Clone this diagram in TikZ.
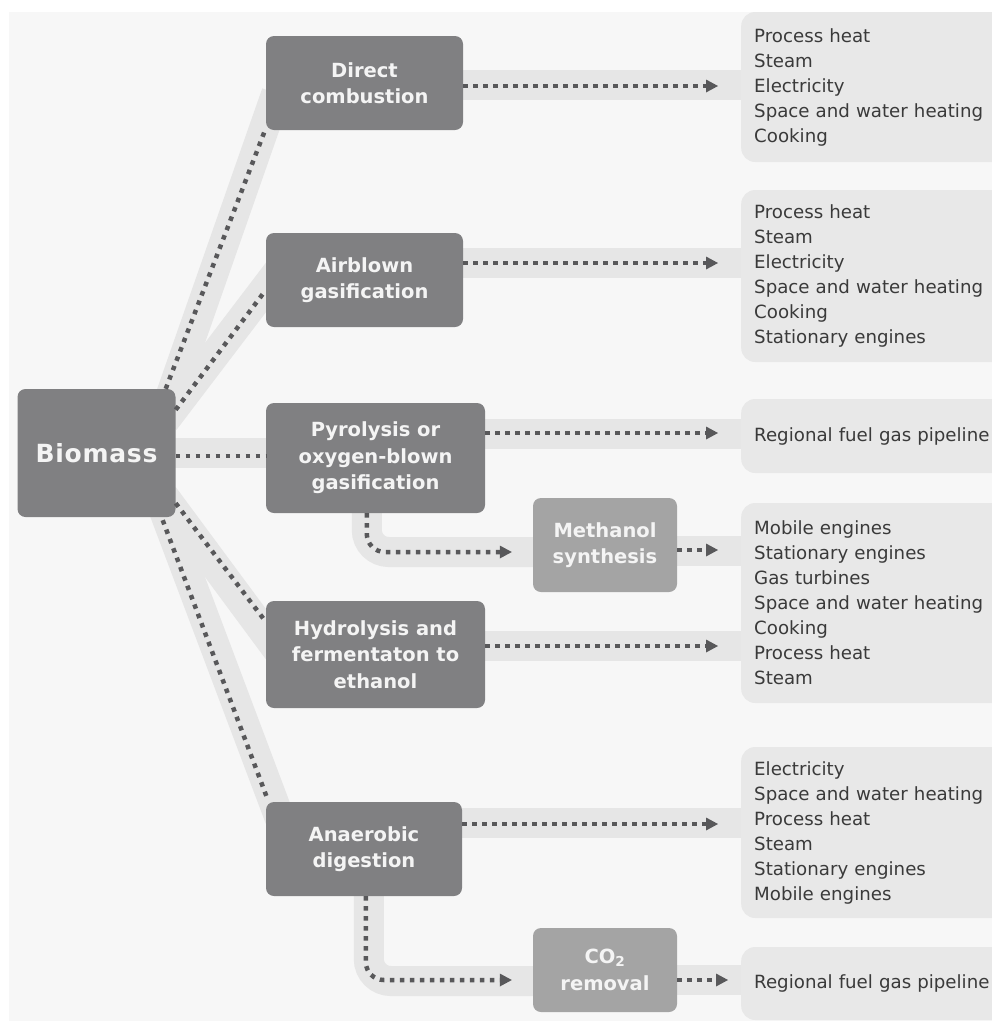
\documentclass[tikz,border=0pt]{standalone}
\usepackage{fontspec}
\setmainfont{DejaVu Sans}
\usetikzlibrary{arrows.meta,calc}
\definecolor{bgcol}{HTML}{F7F7F7}
\definecolor{bandcol}{HTML}{E6E6E6}
\definecolor{outcol}{HTML}{E8E8E8}
\definecolor{darkbox}{HTML}{808082}
\definecolor{lightbox}{HTML}{A4A4A4}
\definecolor{dotcol}{HTML}{58585A}
\definecolor{outtext}{HTML}{3A3A3A}
\definecolor{boxtext}{HTML}{F4F4F4}
\pgfdeclarelayer{back}
\pgfdeclarelayer{bands}
\pgfsetlayers{back,bands,main}
\tikzset{
  procbox/.style={fill=darkbox, rounded corners=8pt, text=boxtext,
    font=\fontsize{19.5}{26.5}\selectfont\bfseries, align=center, inner sep=0pt},
  synbox/.style={procbox, fill=lightbox},
  outbox/.style={fill=outcol, rounded corners=14pt, anchor=west, align=left,
    text width=250pt, inner xsep=13pt, inner ysep=0pt, text=outtext,
    font=\fontsize{18.2}{25}\selectfont},
  band/.style={draw=bandcol, line width=30pt},
  dotline/.style={draw=dotcol, line width=4.5pt, dash pattern=on 4.5pt off 5.5pt},
  flow/.style={dotline, -{Triangle[length=12pt,width=13pt,line width=0pt]}},
}
\begin{document}
\begin{tikzpicture}[x=1pt,y=-1pt]
\useasboundingbox (0,0) rectangle (992,1021);
\begin{pgfonlayer}{back}
  \fill[white] (0,0) rectangle (992,1021);
  \fill[bgcol] (9,12) rectangle (992,1021);
\end{pgfonlayer}

% process nodes
\node[procbox, minimum width=158pt, minimum height=128pt,
      font=\fontsize{25}{30}\selectfont\bfseries\addfontfeatures{LetterSpace=3}] (bio) at (96.5,453) {Biomass};
\node[procbox, minimum width=197pt, minimum height=94pt] (dc) at (364.5,83) {Direct\\combustion};
\node[procbox, minimum width=197pt, minimum height=94pt] (ab) at (364.5,280) {Airblown\\gasification};
\node[procbox, minimum width=219pt, minimum height=110pt] (py) at (375.5,458) {Pyrolysis or\\oxygen-blown\\gasification};
\node[synbox, minimum width=144pt, minimum height=94pt] (me) at (605,545) {Methanol\\synthesis};
\node[procbox, minimum width=219pt, minimum height=107pt] (hy) at (375.5,654.5) {Hydrolysis and\\fermentaton to\\ethanol};
\node[procbox, minimum width=196pt, minimum height=94pt] (ad) at (364,849) {Anaerobic\\digestion};
\node[synbox, minimum width=144pt, minimum height=84pt] (co) at (605,970) {CO\textsubscript{2}\\removal};

% output boxes
\node[outbox, minimum height=150pt] (o1) at (741,87) {Process heat\\Steam\\Electricity\\Space and water heating\\Cooking};
\node[outbox, minimum height=172pt] (o2) at (741,276) {Process heat\\Steam\\Electricity\\Space and water heating\\Cooking\\Stationary engines};
\node[outbox, minimum height=74pt] (o3) at (741,436) {Regional fuel gas pipeline};
\node[outbox, minimum height=200pt] (o4) at (741,603) {Mobile engines\\Stationary engines\\Gas turbines\\Space and water heating\\Cooking\\Process heat\\Steam};
\node[outbox, minimum height=171pt] (o5) at (741,832.5) {Electricity\\Space and water heating\\Process heat\\Steam\\Stationary engines\\Mobile engines};
\node[outbox, minimum height=73pt] (o6) at (741,983.5) {Regional fuel gas pipeline};

% light bands behind connectors
\begin{pgfonlayer}{bands}
  \draw[band, shorten <=-20pt, shorten >=-20pt] ($(bio.north east)+(-3,1)$) -- ($(dc.south west)+(4,-18)$);
  \draw[band, shorten <=-20pt, shorten >=-20pt] ($(bio.north east)+(1,16)$) -- ($(ab.west)+(2,5)$);
  \draw[band] (bio.center) -- (bio.center -| py.center);
  \draw[band, shorten <=-20pt, shorten >=-20pt] ($(bio.south east)+(0,-5)$) -- ($(hy.west)+(0,-20.5)$);
  \draw[band, shorten <=-20pt, shorten >=-20pt] ($(bio.south east)+(-10,-2)$) -- ($(ad.north west)+(7,-2)$);
  \draw[band] ($(dc.center)+(0,2)$) -- ($(dc.center -| o1.center)+(0,2)$);
  \draw[band] ($(ab.center)+(0,-17)$) -- ($(ab.center -| o1.center)+(0,-17)$);
  \draw[band] ($(py.center)+(0,-24)$) -- ($(py.center -| o1.center)+(0,-24)$);
  \draw[band] ($(me.center)+(0,6)$) -- ($(me.center -| o1.center)+(0,6)$);
  \draw[band] ($(hy.center)+(0,-8.5)$) -- ($(hy.center -| o1.center)+(0,-8.5)$);
  \draw[band] ($(ad.center)+(0,-26)$) -- ($(ad.center -| o1.center)+(0,-26)$);
  \draw[band] ($(co.center)+(0,10)$) -- ($(co.center -| o1.center)+(0,10)$);
  \draw[band, rounded corners=22pt] ($(py.south west)+(101,-10)$) |- ($(me.west)+(10,7)$);
  \draw[band, rounded corners=22pt] ($(ad.south west)+(103,-10)$) |- ($(co.west)+(10,11)$);
\end{pgfonlayer}

% dotted connectors from biomass
\draw[dotline] ($(bio.north east)+(-10,0)$) -- ($(dc.south west)+(0,-2)$);
\draw[dotline] ($(bio.north east)+(0,21)$) -- ($(ab.west)+(0,10)$);
\draw[dotline] ($(bio.east)+(0,3)$) -- ($(py.west)+(0,-2)$);
\draw[dotline] ($(bio.south east)+(0,-14)$) -- ($(hy.north west)+(0,21)$);
\draw[dotline] ($(bio.south east)+(-13,3)$) -- ($(ad.north west)+(2,-2)$);

% flows to outputs
\draw[flow] ($(dc.east)+(0,3)$) -- ($(dc.east -| o1.west)+(-23,3)$);
\draw[flow] ($(ab.east)+(0,-17)$) -- ($(ab.east -| o2.west)+(-23,-17)$);
\draw[flow] ($(py.east)+(0,-25)$) -- ($(py.east -| o3.west)+(-23,-25)$);
\draw[flow] ($(me.east)+(0,5)$) -- ($(me.east -| o4.west)+(-23,5)$);
\draw[flow] ($(hy.east)+(0,-8.5)$) -- ($(hy.east -| o4.west)+(-23,-8.5)$);
\draw[flow] ($(ad.east)+(0,-25)$) -- ($(ad.east -| o5.west)+(-23,-25)$);
\draw[flow] ($(co.east)+(0,10)$) -- ($(co.east -| o6.west)+(-13,10)$);

% side branches
\draw[flow, rounded corners=18pt] ($(py.south west)+(101,0)$) |- ($(me.west)+(-21,7)$);
\draw[flow, rounded corners=18pt] ($(ad.south west)+(100,0)$) |- ($(co.west)+(-21,10)$);
\end{tikzpicture}
\end{document}
